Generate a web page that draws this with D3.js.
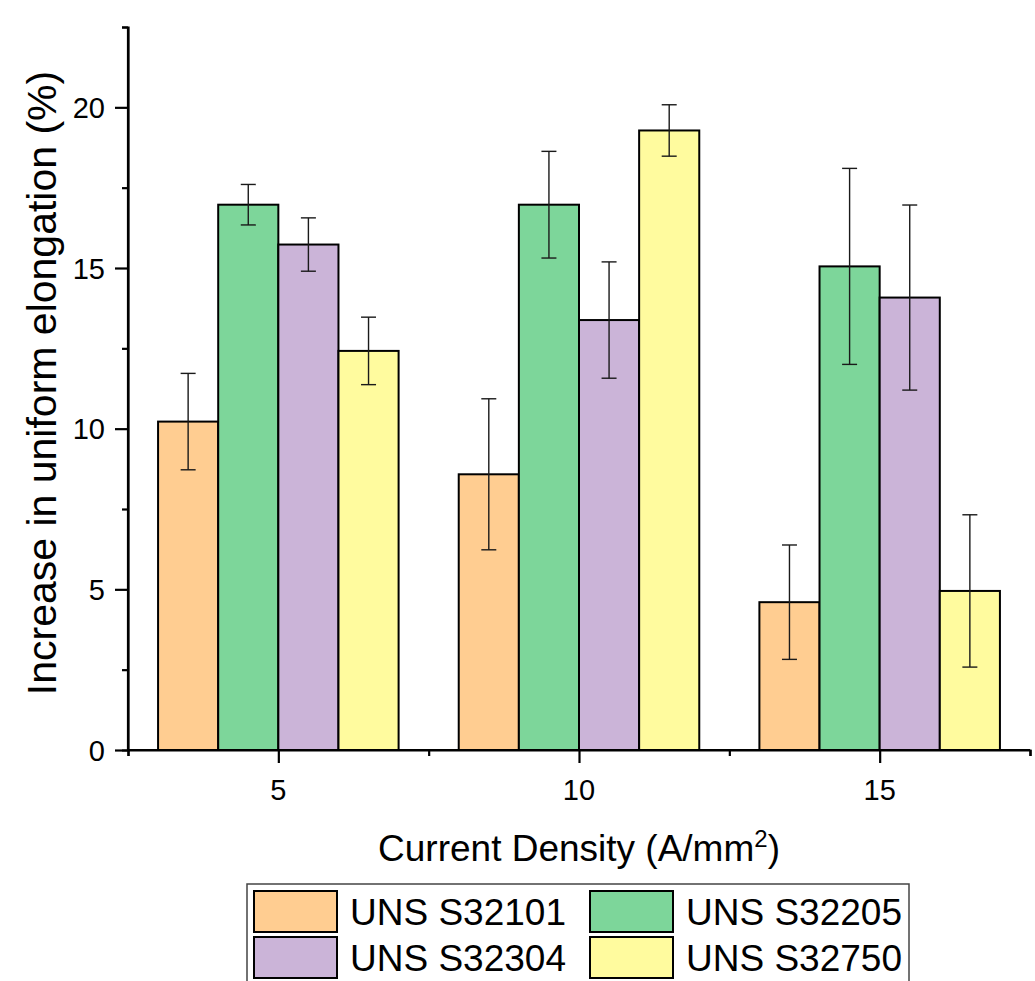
<!DOCTYPE html>
<html>
<head>
<meta charset="utf-8">
<script src="https://cdn.jsdelivr.net/npm/d3@7"></script>
<style>
    body { margin: 0; background: #fff; }
    text { font-family: "Liberation Sans", Arial, sans-serif; fill: #000; }
</style>
</head>
<body>
<div id="chart"></div>
<script>
// données
var densites = [5, 10, 15];
var nuances = ["UNS S32101", "UNS S32205", "UNS S32304", "UNS S32750"];
var couleurs = ["#FFCD91", "#7DD69A", "#CBB4D8", "#FFFB9E"];

var valS32101 = [10.22, 8.58, 4.60];
var valS32205 = [16.97, 16.97, 15.05];
var valS32304 = [15.73, 13.38, 14.08];
var valS32750 = [12.42, 19.28, 4.95];

var errS32101 = [1.50, 2.35, 1.78];
var errS32205 = [0.63, 1.66, 3.05];
var errS32304 = [0.83, 1.81, 2.88];
var errS32750 = [1.05, 0.80, 2.37];

var valeurs = [valS32101, valS32205, valS32304, valS32750];
var erreurs = [errS32101, errS32205, errS32304, errS32750];

var yTicks = [0, 5, 10, 15, 20];
var xTicks = [5, 10, 15];

const width = 1035;
const height = 981;

const svg = d3.select("#chart").append("svg")
    .attr("width", width)
    .attr("height", height);

const x = d3.scaleLinear().domain([2.5, 17.5]).range([128, 1030]);
const y = d3.scaleLinear().domain([0, 22.5]).range([750, 27]);

// barres + barres d'erreur
var donnees = [];
nuances.forEach((n, i) => {
    densites.forEach((d, j) => {
        donnees.push({ serie: i, xc: d + (i - 1.5), v: valeurs[i][j], e: erreurs[i][j] });
    });
});

svg.append("g").selectAll("rect")
    .data(donnees)
    .enter().append("rect")
    .attr("x", d => x(d.xc - 0.5))
    .attr("y", d => y(d.v))
    .attr("width", d => x(d.xc + 0.5) - x(d.xc - 0.5))
    .attr("height", d => y(0) - y(d.v))
    .attr("fill", d => couleurs[d.serie])
    .attr("stroke", "#000")
    .attr("stroke-width", 2);

const err = svg.append("g")
    .attr("stroke", "#1a1a1a")
    .attr("stroke-width", 1.4);

err.selectAll("line.v")
    .data(donnees)
    .enter().append("line")
    .attr("class", "v")
    .attr("x1", d => x(d.xc)).attr("x2", d => x(d.xc))
    .attr("y1", d => y(d.v - d.e)).attr("y2", d => y(d.v + d.e));

err.selectAll("line.haut")
    .data(donnees)
    .enter().append("line")
    .attr("class", "haut")
    .attr("x1", d => x(d.xc) - 7.5).attr("x2", d => x(d.xc) + 7.5)
    .attr("y1", d => y(d.v + d.e)).attr("y2", d => y(d.v + d.e));

err.selectAll("line.bas")
    .data(donnees)
    .enter().append("line")
    .attr("class", "bas")
    .attr("x1", d => x(d.xc) - 7.5).attr("x2", d => x(d.xc) + 7.5)
    .attr("y1", d => y(d.v - d.e)).attr("y2", d => y(d.v - d.e));

// axe Y (graduations), libellés écrits à part
const axeY = svg.append("g")
    .attr("transform", "translate(128,0)")
    .call(d3.axisLeft(y).tickValues(yTicks).tickSize(13).tickFormat(""));
axeY.append("g")
    .call(d3.axisLeft(y).tickValues([2.5, 7.5, 12.5, 17.5, 22.5]).tickSize(6).tickFormat(""));

// axe X
const axeX = svg.append("g")
    .attr("transform", "translate(0,750)")
    .call(d3.axisBottom(x).tickValues(xTicks).tickSize(13).tickFormat(""));
axeX.append("g")
    .call(d3.axisBottom(x).tickValues([2.5, 7.5, 12.5, 17.5]).tickSize(6).tickFormat(""));

svg.selectAll(".domain").attr("stroke", "#000").attr("stroke-width", 2.2);
axeY.select(".domain").attr("d", "M0," + y(22.5) + "V" + y(0));
axeX.select(".domain").attr("d", "M" + x(2.5) + ",0H" + x(17.5));
svg.selectAll(".tick line").attr("stroke", "#000").attr("stroke-width", 2.2);

svg.append("g").selectAll("text")
    .data(yTicks)
    .enter().append("text")
    .attr("x", 105)
    .attr("y", d => y(d) + 10.5)
    .attr("text-anchor", "end")
    .attr("font-size", "29px")
    .text(d => d);

svg.append("g").selectAll("text")
    .data(xTicks)
    .enter().append("text")
    .attr("x", d => x(d))
    .attr("y", 800)
    .attr("text-anchor", "middle")
    .attr("font-size", "29px")
    .text(d => d);

// titres
const titreX = svg.append("text")
    .attr("x", 579)
    .attr("y", 861)
    .attr("text-anchor", "middle")
    .style("font-size", "37px");
titreX.append("tspan").text("Current Density (A/mm");
titreX.append("tspan").text("2").attr("dy", -14).style("font-size", "24px");
titreX.append("tspan").text(")").attr("dy", 14);

svg.append("text")
    .attr("transform", "translate(56,383) rotate(-90)")
    .attr("text-anchor", "middle")
    .style("font-size", "41px")
    .text("Increase in uniform elongation (%)");

// légende
const legende = svg.append("g");
legende.append("rect")
    .attr("x", 247).attr("y", 884)
    .attr("width", 662).attr("height", 110)
    .attr("fill", "none")
    .attr("stroke", "#444")
    .attr("stroke-width", 1.5);

const colX = [254, 590];
const rangY = [891, 937];
nuances.forEach((n, i) => {
    const cx = colX[i % 2];
    const cy = rangY[Math.floor(i / 2)];
    legende.append("rect")
        .attr("x", cx).attr("y", cy)
        .attr("width", 83).attr("height", 41)
        .attr("fill", couleurs[i])
        .attr("stroke", "#000")
        .attr("stroke-width", 2);
    legende.append("text")
        .attr("x", cx + 96)
        .attr("y", cy + 34)
        .style("font-size", "37px")
        .text(n);
});
</script>
</body>
</html>
